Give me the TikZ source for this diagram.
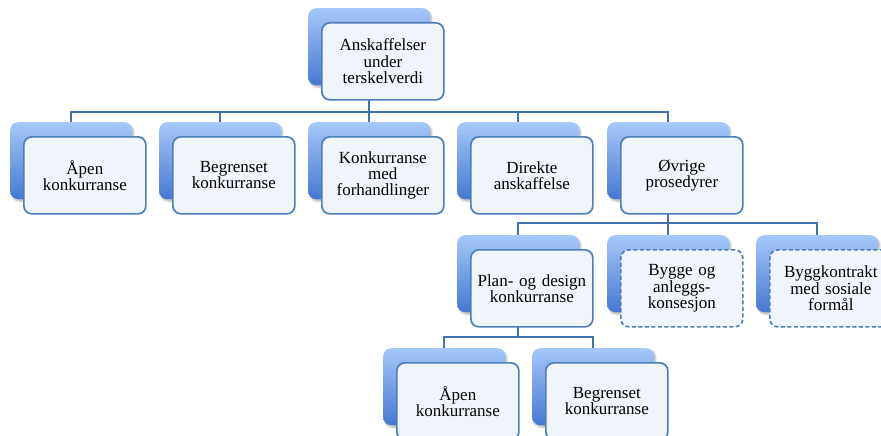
\documentclass[tikz,border=0pt]{standalone}
\usepackage{fontspec}
\setmainfont{Liberation Serif}
\usetikzlibrary{shadows.blur}
\pgfdeclarelayer{bg}
\pgfsetlayers{bg,main}

\definecolor{connblue}{RGB}{66,114,170}
\definecolor{edgeblue}{RGB}{79,125,185}
\definecolor{tabtop}{RGB}{166,200,250}
\definecolor{tabbot}{RGB}{68,120,208}
\definecolor{cardfill}{RGB}{240,245,252}

\tikzset{
  backbox/.style={anchor=north west, minimum width=122pt, minimum height=77pt,
    rounded corners=8pt, top color=tabtop, bottom color=tabbot, draw=none,
    blur shadow={shadow xshift=1.5pt, shadow yshift=-2pt, shadow blur steps=6, shadow opacity=30}},
  frontbox/.style={anchor=north west, minimum width=122pt, minimum height=77pt,
    rounded corners=8pt, fill=cardfill, draw=edgeblue, line width=1.7pt,
    align=center, inner sep=2pt, text width=118pt,
    font=\fontsize{17}{16.3}\selectfont},
  dashedbox/.style={dash pattern=on 4pt off 2.5pt},
  conn/.style={draw=connblue, line width=1.7pt}
}

% an organisation card: blue tab behind, white card in front
\newcommand\orgcard[5][]{%
  \node[backbox] (#2-b) at (#3,#4) {};
  \node[frontbox,#1] (#2) at (#3+13,#4+14) {#5};
}

\begin{document}
\begin{tikzpicture}[x=1pt,y=-1pt]
\useasboundingbox (0,0) rectangle (881,436);
\clip (0,0) rectangle (881,436);

% top level
\orgcard{root}{308}{8}{Anskaffelser\\under\\terskelverdi}

% first level
\orgcard{apen}{10}{122}{Åpen\\konkurranse}
\orgcard{begr}{159}{122}{Begrenset\\konkurranse}
\orgcard{forh}{308}{122}{Konkurranse\\med\\forhandlinger}
\orgcard{dir}{457}{122}{Direkte\\anskaffelse}
\orgcard{ovr}{607}{122}{Øvrige\\prosedyrer}

% second level
\orgcard{plan}{457}{235}{Plan- og design\\konkurranse}
\orgcard[dashedbox]{bygg}{607}{235}{Bygge og\\anleggs-\\konsesjon}
\orgcard[dashedbox]{sos}{756}{235}{Byggkontrakt\\med sosiale\\formål}

% third level
\orgcard{papen}{383}{348}{Åpen\\konkurranse}
\orgcard{pbegr}{532}{348}{Begrenset\\konkurranse}

% connectors
\begin{pgfonlayer}{bg}
  \foreach \c in {apen,begr,forh,dir,ovr}
    \draw[conn] (\c-b.north) -- ++(0,-10) -| (root-b.center);
  \foreach \c in {plan,bygg,sos}
    \draw[conn] (\c-b.north) -- ++(0,-12) -| (ovr-b.center);
  \foreach \c in {papen,pbegr}
    \draw[conn] (\c-b.north) -- ++(0,-11) -| (plan-b.center);
\end{pgfonlayer}
\end{tikzpicture}
\end{document}
